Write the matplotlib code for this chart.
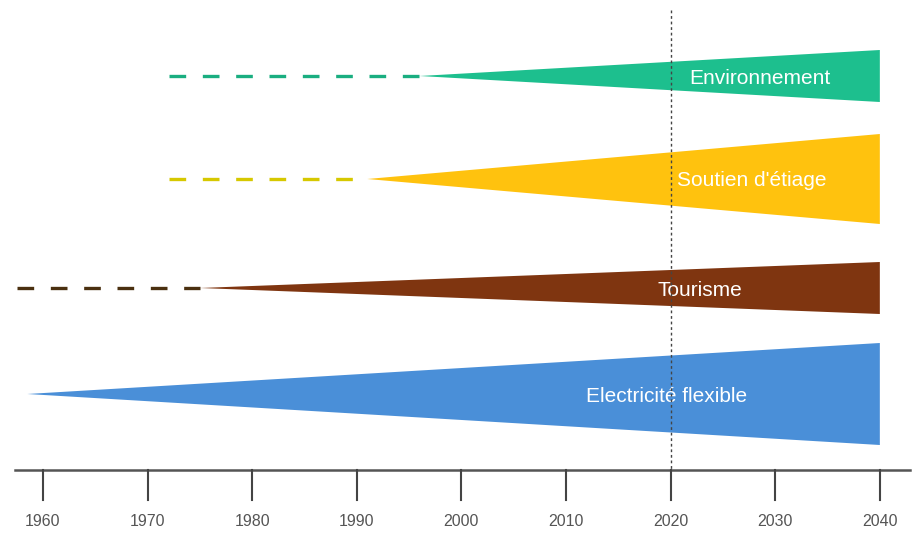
import matplotlib.pyplot as plt

# timeline data
years = [1960, 1970, 1980, 1990, 2000, 2010, 2020, 2030, 2040]
names = ["Environnement", "Soutien d'étiage", "Tourisme", "Electricité flexible"]
dash_start = [1972, 1972, 1957.5, None]
wedge_start = [1996, 1991, 1975, 1958.5]
wedge_end = [2040, 2040, 2040, 2040]
end_width = [52, 90, 52, 102]
today = 2020

colors = ["#1dbf8e", "#ffc20e", "#7f3510", "#4a8fd8"]
dash_colors = ["#1aae80", "#d6c800", "#4a3010", None]
lane_y = [76, 179, 288, 394]
label_x = [2028.5, 2027.8, 2022.8, 2019.6]

fig = plt.figure(figsize=(9.2, 5.36), dpi=100)
ax = fig.add_axes([0, 0, 1, 1])
ax.set_xlim(1955.89, 2043.84)
ax.set_ylim(536, 0)
ax.axis("off")

for i, name in enumerate(names):
    y = lane_y[i]
    w = end_width[i] / 2
    if dash_start[i] is not None:
        ax.plot([dash_start[i], wedge_start[i]], [y, y], color=dash_colors[i],
                lw=2.4, dashes=(5, 5), solid_capstyle="butt", zorder=2)
    ax.fill([wedge_start[i], wedge_end[i], wedge_end[i]],
            [y, y - w, y + w], color=colors[i], lw=0, zorder=3)
    ax.text(label_x[i], y + 2, name, color="white", fontsize=15,
            ha="center", va="center", family="Liberation Sans", zorder=4)

# "today" marker
ax.plot([today, today], [10, 470], color="#444444", lw=1, ls=(0, (2, 2)), zorder=5)

# axis
ax.plot([1957.3, 2042.9], [470, 470], color="#555555", lw=1.8, zorder=1)
for yr in years:
    ax.plot([yr, yr], [470, 500], color="#444444", lw=1.5)
    ax.text(yr, 522, str(yr), color="#555555", fontsize=11.5, ha="center",
            va="center", family="Liberation Sans")

fig.savefig("out.png", dpi=100)
